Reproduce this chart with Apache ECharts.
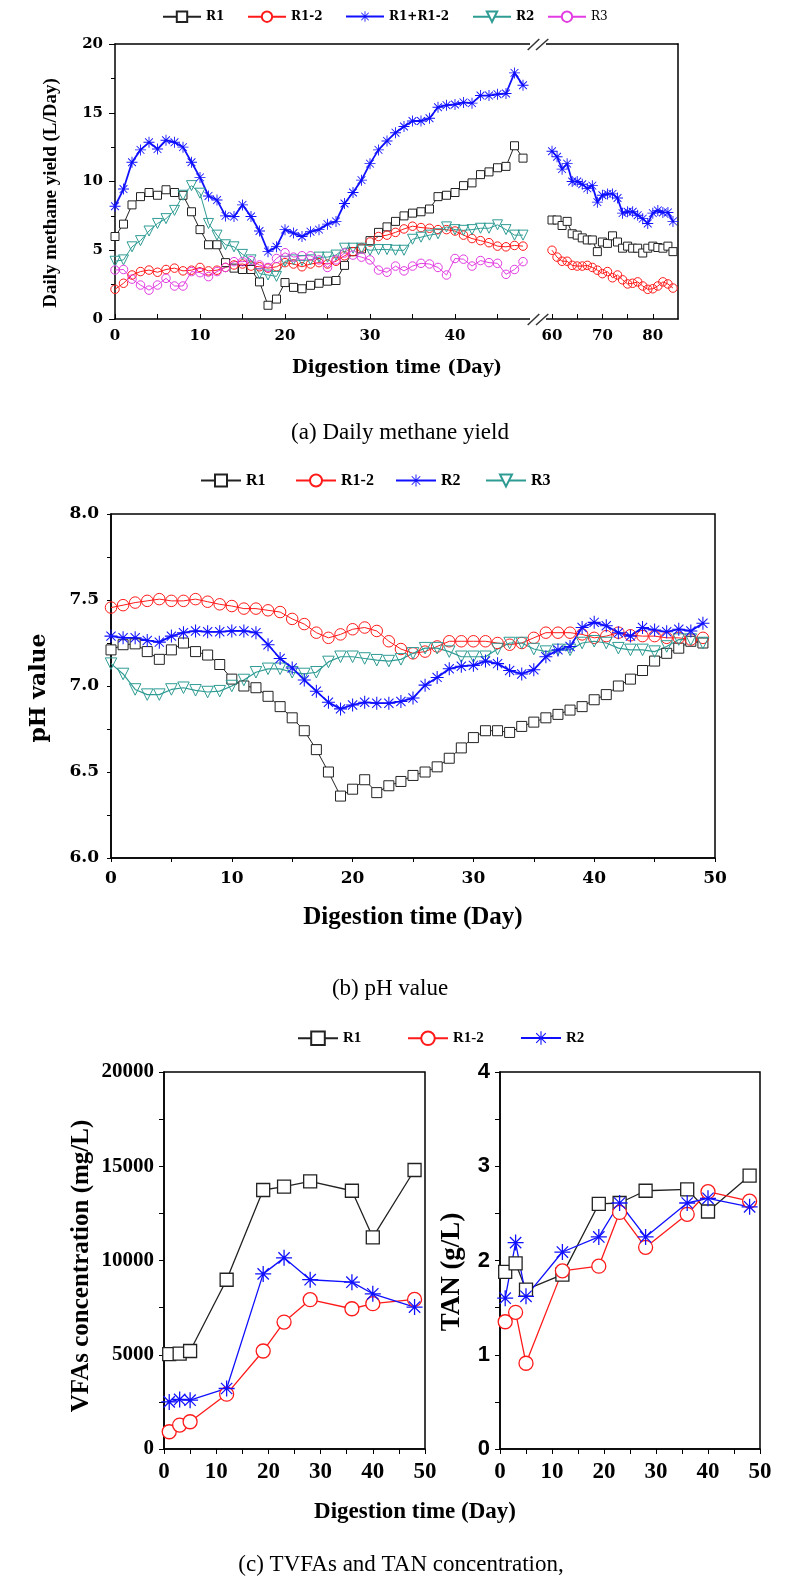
<!DOCTYPE html>
<html><head><meta charset="utf-8">
<script src="https://cdn.jsdelivr.net/npm/echarts@6/dist/echarts.min.js"></script>
<style>html,body{margin:0;padding:0;background:#fff}#c{width:795px;height:1582px}</style>
</head><body><div id="c"></div>
<script>
// ---------- (a) Daily methane yield ----------
const aDaysL = [0,1,2,3,4,5,6,7,8,9,10,11,12,13,14,15,16,17,18,19,20,21,22,23,24,25,26,27,28,29,30,31,32,33,34,35,36,37,38,39,40,41,42,43,44,45,46,47,48];
const aR1L   = [6.0,6.9,8.3,8.9,9.2,9.0,9.4,9.2,9.0,7.8,6.5,5.4,5.4,4.1,3.7,3.6,3.6,2.7,1.0,1.45,2.65,2.3,2.2,2.45,2.6,2.75,2.8,3.9,4.9,5.1,5.7,6.3,6.7,7.1,7.5,7.7,7.8,8.0,8.9,9.0,9.2,9.7,9.9,10.5,10.7,11.0,11.1,12.6,11.7];
const aR12L  = [2.16,2.6,3.2,3.45,3.56,3.4,3.6,3.7,3.5,3.55,3.75,3.5,3.55,3.75,3.93,4.0,3.85,3.8,3.7,3.8,4.1,4.0,3.8,4.0,4.1,4.0,4.2,4.6,4.9,5.2,5.6,6.0,6.1,6.3,6.55,6.75,6.65,6.6,6.5,6.5,6.4,6.1,5.85,5.7,5.55,5.3,5.25,5.35,5.3];
const aMixL  = [8.2,9.45,11.4,12.3,12.85,12.36,13.0,12.85,12.5,11.4,10.3,8.95,8.65,7.5,7.45,8.3,7.45,6.4,4.9,5.26,6.5,6.25,6.0,6.35,6.5,6.9,7.1,8.4,9.2,10.1,11.3,12.3,12.95,13.55,14.0,14.4,14.4,14.6,15.4,15.55,15.6,15.75,15.7,16.25,16.25,16.35,16.4,17.9,17.0];
const aR2L   = [4.2,4.3,5.25,5.7,6.4,6.95,7.3,7.9,9.0,9.7,9.15,6.95,6.1,5.4,5.25,4.7,4.3,3.3,3.2,3.1,4.2,4.3,4.25,4.3,4.5,4.5,4.65,5.15,5.15,5.15,5.0,5.05,5.05,5.0,5.0,5.8,5.95,6.1,6.2,6.7,6.5,6.45,6.5,6.6,6.6,6.85,6.5,6.1,6.1];
const aR3L   = [3.56,3.6,2.9,2.47,2.1,2.47,2.96,2.4,2.4,3.45,3.37,3.08,3.45,3.75,4.17,4.17,4.25,3.93,3.75,4.4,4.82,4.5,4.6,4.6,4.3,3.75,4.3,4.8,4.65,4.5,4.3,3.56,3.4,3.85,3.5,3.85,4.05,4.0,3.75,3.2,4.4,4.35,3.85,4.25,4.1,4.05,3.25,3.6,4.17];
const aDaysR = [60,61,62,63,64,65,66,67,68,69,70,71,72,73,74,75,76,77,78,79,80,81,82,83,84];
const aR1R   = [7.2,7.2,6.8,7.1,6.2,6.1,5.9,5.75,5.75,4.9,5.6,5.5,6.05,5.6,5.15,5.3,5.15,5.15,4.8,5.15,5.3,5.2,5.15,5.3,4.9];
const aR12R  = [5.0,4.5,4.2,4.2,3.9,3.85,3.85,3.9,3.75,3.55,3.3,3.45,3.0,3.2,2.85,2.55,2.6,2.7,2.4,2.16,2.2,2.4,2.7,2.55,2.25];
const aMixR  = [12.2,11.8,10.9,11.3,10.0,10.0,9.8,9.5,9.7,8.5,9.0,9.1,9.1,8.8,7.7,7.8,7.8,7.55,7.3,6.95,7.7,7.9,7.75,7.75,7.1];
const aXLabL = [0,10,20,30,40];
const aXTickL = [0,5,10,15,20,25,30,35,40,45];
const aXLabR = [60,70,80];
const aXTickR = [60,65,70,75,80];

// ---------- (b) pH value ----------
const bDays = [0,1,2,3,4,5,6,7,8,9,10,11,12,13,14,15,16,17,18,19,20,21,22,23,24,25,26,27,28,29,30,31,32,33,34,35,36,37,38,39,40,41,42,43,44,45,46,47,48,49];
const bR1  = [7.21,7.24,7.245,7.20,7.155,7.21,7.25,7.20,7.18,7.125,7.04,7.0,6.99,6.94,6.88,6.815,6.74,6.63,6.50,6.36,6.40,6.455,6.38,6.42,6.445,6.48,6.50,6.53,6.58,6.64,6.70,6.74,6.74,6.73,6.765,6.79,6.815,6.835,6.86,6.88,6.92,6.95,7.0,7.04,7.09,7.145,7.19,7.22,7.26,7.25];
const bR12 = [7.456,7.47,7.485,7.495,7.505,7.495,7.495,7.505,7.49,7.475,7.465,7.45,7.45,7.44,7.43,7.39,7.36,7.31,7.28,7.30,7.33,7.34,7.32,7.26,7.215,7.19,7.20,7.23,7.26,7.26,7.26,7.26,7.25,7.24,7.25,7.28,7.31,7.31,7.31,7.30,7.28,7.29,7.31,7.295,7.29,7.29,7.28,7.28,7.27,7.28];
const bR2  = [7.29,7.28,7.28,7.265,7.255,7.29,7.31,7.32,7.315,7.315,7.32,7.32,7.31,7.24,7.16,7.105,7.035,6.97,6.905,6.867,6.89,6.905,6.90,6.90,6.91,6.93,7.005,7.05,7.10,7.115,7.12,7.145,7.13,7.09,7.07,7.095,7.17,7.21,7.23,7.34,7.37,7.35,7.31,7.29,7.34,7.325,7.315,7.33,7.32,7.365];
const bR3  = [7.13,7.07,6.98,6.95,6.95,6.98,6.99,6.975,6.965,6.97,7.0,7.035,7.08,7.10,7.10,7.08,7.07,7.08,7.14,7.17,7.17,7.16,7.15,7.145,7.155,7.19,7.22,7.22,7.20,7.17,7.17,7.17,7.215,7.25,7.25,7.215,7.20,7.21,7.21,7.25,7.26,7.25,7.22,7.21,7.21,7.20,7.23,7.27,7.27,7.25];

// ---------- (c) TVFAs and TAN ----------
const cDays = [1,3,5,12,19,23,28,36,40,48];
const cVfaR1  = [5030,5060,5200,8980,13740,13920,14200,13700,11230,14800];
const cVfaR12 = [915,1270,1445,2910,5200,6735,7920,7440,7710,7935];
const cVfaR2  = [2500,2630,2590,3210,9290,10140,8980,8850,8235,7530];
const cTanR1  = [1.88,1.97,1.69,1.85,2.60,2.61,2.74,2.755,2.52,2.90];
const cTanR12 = [1.35,1.45,0.91,1.89,1.94,2.51,2.14,2.49,2.73,2.63];
const cTanR2  = [1.60,2.19,1.62,2.09,2.25,2.61,2.25,2.61,2.66,2.57];

const pair = (xs, ys) => xs.map((x, i) => [x, ys[i]]);

const BLACK = '#222', RED = '#ff1a1a', BLUE = '#1010ff', TEAL = '#2f9c94', MAG = '#e23de2';
const STAR = 'path://M0,46L100,46L100,54L0,54Z M46,0L54,0L54,100L46,100Z M17.4,11.8L88.2,82.6L82.6,88.2L11.8,17.4Z M88.2,17.4L17.4,88.2L11.8,82.6L82.6,11.8Z';
const SERIF = '"Liberation Serif", "Times New Roman", serif';
const DSERIF = '"DejaVu Serif", serif';
const CLEAR = 'rgba(255,255,255,0)';

function ser(name, xi, yi, data, o) {
  const hollowFill = o.fill || '#fff';
  return {
    name, type: 'line', xAxisIndex: xi, yAxisIndex: yi, data,
    symbol: o.symbol, symbolSize: o.size, symbolRotate: o.rotate || 0,
    showSymbol: true, showAllSymbol: true, animation: false, silent: true,
    lineStyle: { color: o.color, width: o.lw || 1 },
    itemStyle: o.symbol === STAR ? { color: o.color, borderWidth: 0 }
                                  : { color: hollowFill, borderColor: o.color, borderWidth: o.bw || 1 },
    emphasis: { disabled: true }
  };
}

const aStyles = {
  R1:   { symbol: 'rect', size: 8, color: BLACK, fill: '#fff', lw: 1 },
  R12:  { symbol: 'circle', size: 8.5, color: RED, fill: CLEAR, lw: 1 },
  MIX:  { symbol: STAR, size: 11, color: BLUE, lw: 1.8 },
  R2:   { symbol: 'triangle', size: 10, rotate: 180, color: TEAL, fill: CLEAR, lw: 1 },
  R3:   { symbol: 'circle', size: 8.5, color: MAG, fill: CLEAR, lw: 1 }
};
const bStyles = {
  R1:  { symbol: 'rect', size: 10, color: BLACK, fill: '#fff', lw: 1 },
  R12: { symbol: 'circle', size: 11.5, color: RED, fill: CLEAR, lw: 1 },
  R2:  { symbol: STAR, size: 13, color: BLUE, lw: 1.8 },
  R3:  { symbol: 'triangle', size: 11.5, rotate: 180, color: TEAL, fill: CLEAR, lw: 1.2 }
};
const cStyles = {
  R1:  { symbol: 'rect', size: 13, color: BLACK, fill: '#fff', lw: 1.3, bw: 1.3 },
  R12: { symbol: 'circle', size: 14, color: RED, fill: '#fff', lw: 1.3, bw: 1.3 },
  R2:  { symbol: STAR, size: 16, color: BLUE, lw: 1.3 }
};

const series = [
  ser('a|R1', 0, 0, pair(aDaysL, aR1L), aStyles.R1),
  ser('a|R1-2', 0, 0, pair(aDaysL, aR12L), aStyles.R12),
  ser('a|R2', 0, 0, pair(aDaysL, aR2L), aStyles.R2),
  ser('a|R3', 0, 0, pair(aDaysL, aR3L), aStyles.R3),
  ser('a|R1+R1-2', 0, 0, pair(aDaysL, aMixL), aStyles.MIX),
  ser('a2|R1', 2, 1, pair(aDaysR, aR1R), aStyles.R1),
  ser('a2|R1-2', 2, 1, pair(aDaysR, aR12R), aStyles.R12),
  ser('a2|R1+R1-2', 2, 1, pair(aDaysR, aMixR), aStyles.MIX),
  ser('b|R1', 4, 2, pair(bDays, bR1), bStyles.R1),
  ser('b|R1-2', 4, 2, pair(bDays, bR12), bStyles.R12),
  ser('b|R3', 4, 2, pair(bDays, bR3), bStyles.R3),
  ser('b|R2', 4, 2, pair(bDays, bR2), bStyles.R2),
  ser('c|R1', 5, 3, pair(cDays, cVfaR1), cStyles.R1),
  ser('c|R1-2', 5, 3, pair(cDays, cVfaR12), cStyles.R12),
  ser('c|R2', 5, 3, pair(cDays, cVfaR2), cStyles.R2),
  ser('c2|R1', 6, 4, pair(cDays, cTanR1), cStyles.R1),
  ser('c2|R1-2', 6, 4, pair(cDays, cTanR12), cStyles.R12),
  ser('c2|R2', 6, 4, pair(cDays, cTanR2), cStyles.R2)
];

function leg(name, left, top, o) {
  return {
    data: [o.dataItem ? Object.assign({ name }, o.dataItem) : name],
    left, top, orient: 'horizontal', itemWidth: o.w, itemHeight: o.h, itemGap: 0,
    selectedMode: false, padding: 0,
    formatter: n => n.split('|')[1],
    textStyle: { fontFamily: o.ff, fontSize: o.fs, fontWeight: o.fw || 'bold', color: '#000', padding: [0, 0, 0, 0] }
  };
}
const la = { w: 38, h: 13, ff: DSERIF, fs: 12 };
const lb = { w: 40, h: 15, ff: SERIF, fs: 16 };
const lc = { w: 40, h: 17, ff: SERIF, fs: 15 };
const whiteIcon = { itemStyle: { color: '#fff' } };
const legends = [
  leg('a|R1', 162, 10.5, la),
  leg('a|R1-2', 247, 10.5, Object.assign({ dataItem: whiteIcon }, la)),
  leg('a|R1+R1-2', 345, 10.5, la),
  leg('a|R2', 472, 10.5, Object.assign({ dataItem: whiteIcon }, la)),
  leg('a|R3', 547, 10.5, Object.assign({ dataItem: Object.assign({ textStyle: { fontWeight: 'normal' } }, whiteIcon) }, la)),
  leg('b|R1', 200, 472.5, lb),
  leg('b|R1-2', 295, 472.5, Object.assign({ dataItem: whiteIcon }, lb)),
  leg('b|R2', 395, 472.5, lb),
  leg('b|R3', 485, 472.5, Object.assign({ dataItem: whiteIcon }, lb)),
  leg('c|R1', 297, 1030.5, lc),
  leg('c|R1-2', 407, 1030.5, lc),
  leg('c|R2', 520, 1030.5, lc)
];

const AX = '#000';
const lineOnly = (extra) => Object.assign({
  axisLine: { show: true, lineStyle: { color: AX, width: 1.5 } },
  axisTick: { show: false }, axisLabel: { show: false }, splitLine: { show: false }
}, extra);

const aLab = { fontFamily: DSERIF, fontWeight: 'bold', fontSize: 15, color: '#000' };
const bLab = { fontFamily: DSERIF, fontWeight: 'bold', fontSize: 17, color: '#000' };
const cLabX = { fontFamily: SERIF, fontWeight: 'bold', fontSize: 23, color: '#000' };

const xAxis = [
  { gridIndex: 0, type: 'value', position: 'bottom', min: 0, max: 49.647,
    axisLine: { lineStyle: { color: AX, width: 1.5 } },
    axisTick: { inside: true, length: 5, lineStyle: { color: AX }, customValues: aXTickL },
    axisLabel: Object.assign({ margin: 10, customValues: aXLabL }, aLab),
    splitLine: { show: false } },
  lineOnly({ gridIndex: 0, type: 'value', position: 'top', min: 0, max: 49.647 }),
  { gridIndex: 1, type: 'value', position: 'bottom', min: 57.02, max: 85,
    axisLine: { lineStyle: { color: AX, width: 1.5 } },
    axisTick: { inside: true, length: 5, lineStyle: { color: AX }, customValues: aXTickR },
    axisLabel: Object.assign({ margin: 10, customValues: aXLabR }, aLab),
    splitLine: { show: false } },
  lineOnly({ gridIndex: 1, type: 'value', position: 'top', min: 57.02, max: 85 }),
  { gridIndex: 2, type: 'value', min: 0, max: 50, interval: 10,
    axisLine: { lineStyle: { color: AX, width: 1.5 } },
    axisTick: { length: 4, lineStyle: { color: AX } },
    minorTick: { show: true, splitNumber: 2, length: 4, lineStyle: { color: AX } },
    axisLabel: Object.assign({ margin: 12 }, bLab), splitLine: { show: false } },
  { gridIndex: 3, type: 'value', min: 0, max: 50, interval: 10,
    axisLine: { lineStyle: { color: AX, width: 1.5 } },
    axisTick: { length: 5, lineStyle: { color: AX } },
    minorTick: { show: true, splitNumber: 2, length: 5, lineStyle: { color: AX } },
    axisLabel: Object.assign({ margin: 12 }, cLabX), splitLine: { show: false } },
  { gridIndex: 4, type: 'value', min: 0, max: 50, interval: 10,
    axisLine: { lineStyle: { color: AX, width: 1.5 } },
    axisTick: { length: 5, lineStyle: { color: AX } },
    minorTick: { show: true, splitNumber: 2, length: 5, lineStyle: { color: AX } },
    axisLabel: Object.assign({ margin: 12 }, cLabX), splitLine: { show: false } }
];

const yAxis = [
  { gridIndex: 0, type: 'value', min: 0, max: 20, interval: 5,
    axisLine: { show: true, lineStyle: { color: AX, width: 1.5 } },
    axisTick: { show: true, length: 6, lineStyle: { color: AX } },
    minorTick: { show: true, splitNumber: 2, length: 4, lineStyle: { color: AX } },
    axisLabel: Object.assign({ margin: 12 }, aLab), splitLine: { show: false } },
  lineOnly({ gridIndex: 1, type: 'value', position: 'right', min: 0, max: 20 }),
  { gridIndex: 2, type: 'value', min: 6, max: 8, interval: 0.5,
    axisLine: { show: true, lineStyle: { color: AX, width: 1.5 } },
    axisTick: { show: true, length: 4, lineStyle: { color: AX } },
    minorTick: { show: true, splitNumber: 2, length: 4, lineStyle: { color: AX } },
    axisLabel: Object.assign({ margin: 12, formatter: v => v.toFixed(1) }, bLab), splitLine: { show: false } },
  { gridIndex: 3, type: 'value', min: 0, max: 20000, interval: 5000,
    axisLine: { show: true, lineStyle: { color: AX, width: 1.5 } },
    axisTick: { show: true, length: 5, lineStyle: { color: AX } },
    minorTick: { show: true, splitNumber: 2, length: 5, lineStyle: { color: AX } },
    axisLabel: { margin: 10, formatter: v => String(v), fontFamily: SERIF, fontWeight: 'bold', fontSize: 21, color: '#000' }, splitLine: { show: false } },
  { gridIndex: 4, type: 'value', min: 0, max: 4, interval: 1,
    axisLine: { show: true, lineStyle: { color: AX, width: 1.5 } },
    axisTick: { show: true, length: 5, lineStyle: { color: AX } },
    minorTick: { show: true, splitNumber: 2, length: 5, lineStyle: { color: AX } },
    axisLabel: { margin: 10, fontFamily: '"Liberation Sans", Arial, sans-serif', fontWeight: 'bold', fontSize: 22, color: '#000' }, splitLine: { show: false } }
];

const frame = { show: true, borderColor: AX, borderWidth: 1.5, backgroundColor: 'transparent' };
const grid = [
  { left: 115, top: 44, width: 422, height: 275 },
  { left: 537, top: 44, width: 141, height: 275 },
  Object.assign({ left: 111, top: 514, width: 604, height: 344 }, frame),
  Object.assign({ left: 164, top: 1072, width: 261, height: 377 }, frame),
  Object.assign({ left: 500, top: 1072, width: 260, height: 377 }, frame)
];

function txt(text, x, y, font, rot) {
  return { type: 'text', x, y, rotation: rot || 0, silent: true, z: 100,
    style: { text, font, fill: '#000', textAlign: 'center', textVerticalAlign: 'middle', align: 'center', verticalAlign: 'middle' } };
}
const brk = (y) => [
  { type: 'rect', shape: { x: 530, y: y - 3, width: 16, height: 6 }, style: { fill: '#fff' }, z: 90, silent: true },
  { type: 'line', shape: { x1: 527.7, y1: y + 6, x2: 539.3, y2: y - 5 }, style: { stroke: '#333', lineWidth: 1.5 }, z: 91, silent: true },
  { type: 'line', shape: { x1: 536, y1: y + 6, x2: 548.3, y2: y - 5 }, style: { stroke: '#333', lineWidth: 1.5 }, z: 91, silent: true }
];
const graphic = [].concat(
  brk(44), brk(319),
  [
    txt('Daily methane yield (L/Day)', 51, 193, 'bold 19px ' + SERIF, Math.PI / 2),
    txt('Digestion time (Day)', 397, 368, 'bold 18px ' + DSERIF),
    txt('(a) Daily methane yield', 400, 433, '23px ' + SERIF),
    txt('pH value', 39, 688, 'bold 22px ' + DSERIF, Math.PI / 2),
    txt('Digestion time (Day)', 413, 918, 'bold 25px ' + SERIF),
    txt('(b) pH value', 390, 989, '23px ' + SERIF),
    txt('VFAs concentration (mg/L)', 82, 1266, 'bold 25px ' + SERIF, Math.PI / 2),
    txt('TAN (g/L)', 452, 1272, 'bold 27px ' + SERIF, Math.PI / 2),
    txt('Digestion time (Day)', 415, 1512, 'bold 23px ' + SERIF),
    txt('(c) TVFAs and TAN concentration,', 401, 1565, '23px ' + SERIF)
  ]
);

const chart = echarts.init(document.getElementById('c'), null, { renderer: 'canvas' });
chart.setOption({
  animation: false,
  backgroundColor: '#fff',
  grid, xAxis, yAxis, series, legend: legends, graphic
});
</script></body></html>
